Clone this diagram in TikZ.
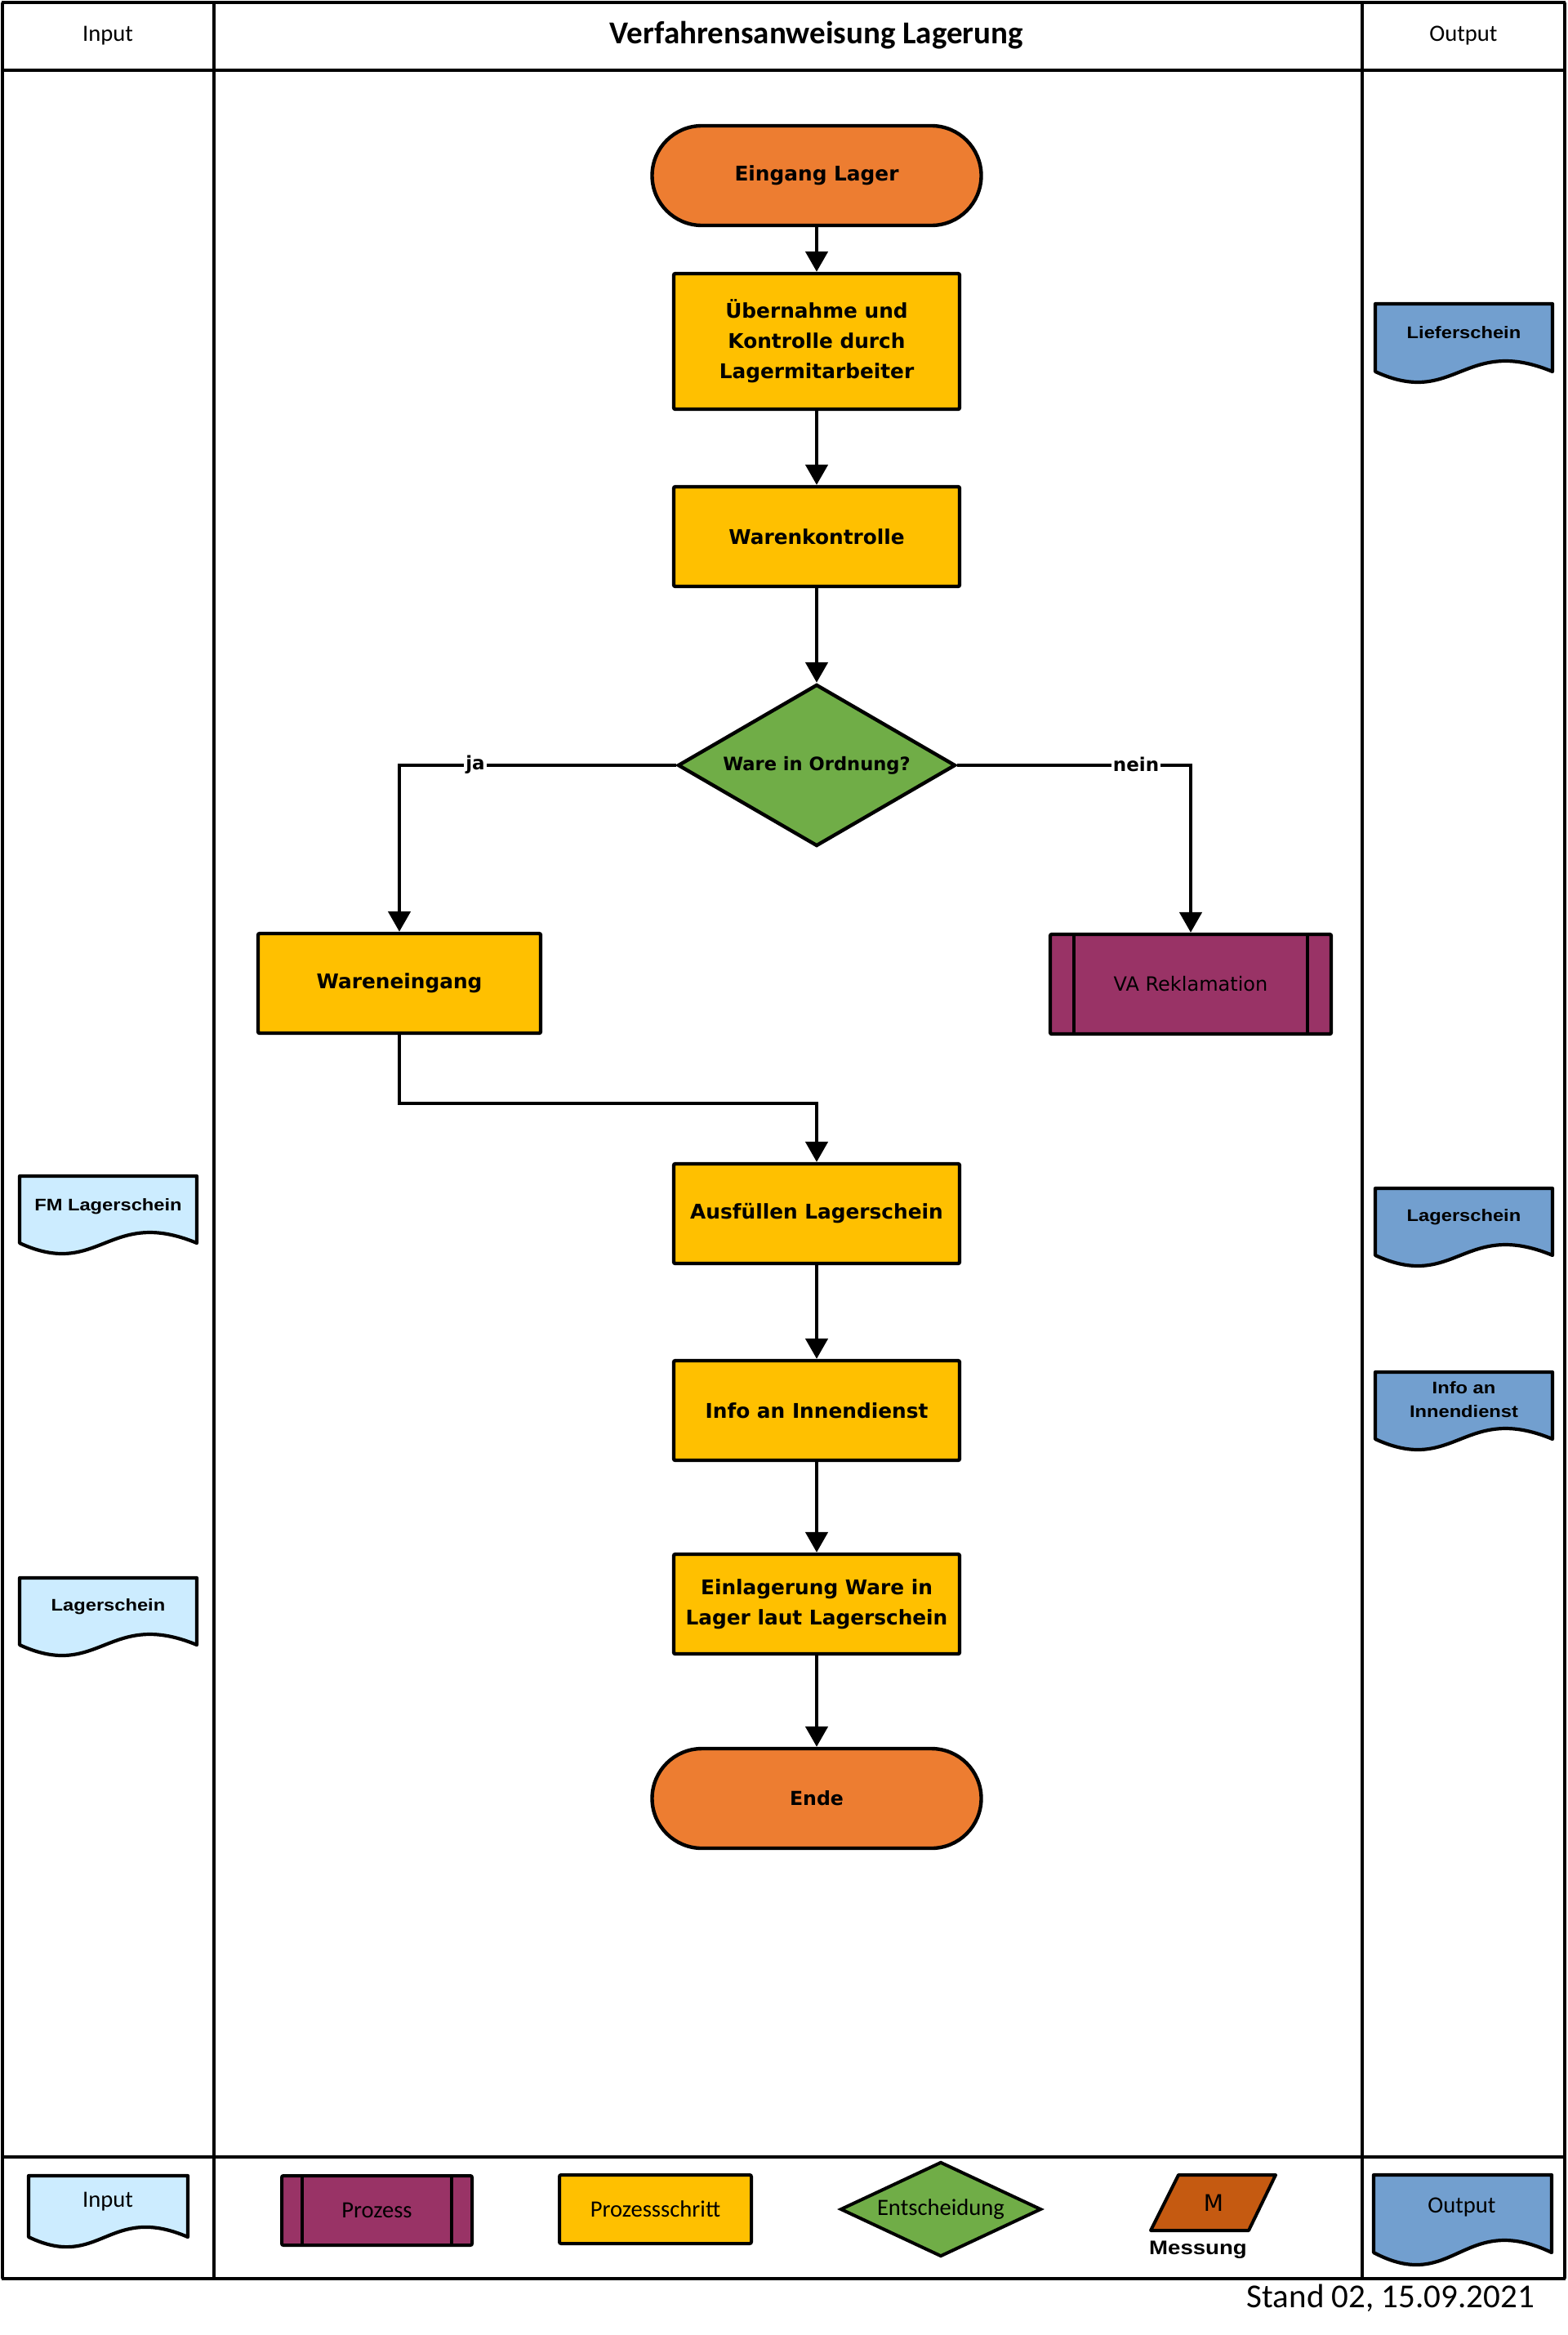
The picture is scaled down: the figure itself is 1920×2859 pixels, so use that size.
\documentclass[tikz,border=0pt]{standalone}
\usepackage{fontspec}
\setmainfont{Carlito}
\newfontfamily\flowfont{DejaVu Sans}
\newfontfamily\docfont[FakeStretch=1.15]{Liberation Sans}
\usetikzlibrary{arrows.meta,shapes.geometric,calc}
\definecolor{termorange}{HTML}{ED7D31}
\definecolor{procyellow}{HTML}{FFC000}
\definecolor{decgreen}{HTML}{70AD47}
\definecolor{subpurple}{HTML}{993366}
\definecolor{outblue}{HTML}{729FCF}
\definecolor{inblue}{HTML}{CCECFF}
\definecolor{measorange}{HTML}{C55A11}
% document shape: left x, top y, width, side height, wave control, fill
\newcommand\docshape[6]{%
  \filldraw[docline,fill=#6] (#1,#2) -- (#1+#3,#2) -- (#1+#3,#2+#4)
    .. controls (#1+0.5*#3,#2+#4-#5) and (#1+0.45*#3,#2+#4+#5) .. (#1,#2+#4) -- cycle;}
\begin{document}
\begin{tikzpicture}[x=0.5pt,y=-0.5pt,
  frameh/.style={line width=2.2pt},
  framev/.style={line width=1.7pt},
  docline/.style={line width=2.1pt, line join=round},
  flowtext/.style={font=\flowfont\bfseries\fontsize{12.4}{18.5}\selectfont},
  terminal/.style={draw, line width=2.2pt, fill=termorange, rounded corners=30.5pt,
    minimum width=201.5pt, minimum height=61pt, align=center, flowtext},
  procbox/.style={draw, line width=2.2pt, fill=procyellow, rounded corners=1pt,
    minimum width=175pt, minimum height=61pt, inner sep=0pt, align=center, flowtext},
  decision/.style={draw, line width=2.2pt, fill=decgreen, diamond, inner sep=0pt,
    aspect=1.72, minimum width=170pt, minimum height=99pt,
    font=\flowfont\bfseries\fontsize{11.3}{14}\selectfont},
  subproc/.style={draw, line width=2.2pt, fill=subpurple, rounded corners=1pt,
    minimum width=172pt, minimum height=61pt, inner sep=0pt,
    font=\flowfont\fontsize{12}{15}\selectfont},
  conn/.style={line width=2.4pt, -{Triangle[length=12.5pt,width=13.5pt]}},
  lbl/.style={fill=white, inner sep=1pt, font=\flowfont\bfseries\fontsize{11.5}{14}\selectfont},
  doctext/.style={align=center, font=\docfont\bfseries\fontsize{10.3}{14.5}\selectfont},
  headtext/.style={font=\fontsize{14.3}{17}\selectfont},
  legtext/.style={font=\fontsize{14.3}{17}\selectfont},
]
\useasboundingbox (0,0) rectangle (1920,2859);
\fill[white] (0,0) rectangle (1920,2859);

% ---------- frame ----------
\draw[framev] (3,3) -- (3,2790);
\draw[framev] (262,3) -- (262,2790);
\draw[framev] (1668,3) -- (1668,2790);
\draw[framev] (1916,3) -- (1916,2790);
\draw[frameh] (2,3) -- (1917,3);
\draw[frameh] (2,86) -- (1917,86);
\draw[frameh] (2,2641) -- (1917,2641);
\draw[frameh] (2,2790) -- (1917,2790);

% ---------- header ----------
\node[headtext] (hin) at (132,44) {Input};
\node[font=\bfseries\fontsize{19.5}{22}\selectfont] (htitle) at (1000,43) {Verfahrensanweisung Lagerung};
\node[headtext] (hout) at (1792,44) {Output};

% ---------- flow ----------
\node[terminal] (start) at (1000,215) {Eingang Lager};
\node[procbox, minimum height=83pt] (ueber) at (1000,418) {Übernahme und\\Kontrolle durch\\Lagermitarbeiter};
\node[procbox] (wk) at (1000,657) {Warenkontrolle};
\node[decision] (dec) at (1000,937) {Ware in Ordnung?};
\node[procbox, minimum width=173pt] (we) at (489,1204) {Wareneingang};
\node[subproc] (va) at (1458,1205) {VA Reklamation};
\draw[line width=2.2pt] ([xshift=15.5pt]va.north west) -- ([xshift=15.5pt]va.south west);
\draw[line width=2.2pt] ([xshift=-15.5pt]va.north east) -- ([xshift=-15.5pt]va.south east);
\node[procbox] (ausf) at (1000,1486) {Ausfüllen Lagerschein};
\node[procbox] (info) at (1000,1727) {Info an Innendienst};
\node[procbox] (einl) at (1000,1964) {Einlagerung Ware in\\Lager laut Lagerschein};
\node[terminal, font=\flowfont\bfseries\fontsize{11.8}{14}\selectfont] (ende) at (1000,2202) {Ende};

\coordinate (join) at (1000,1351);
\draw[conn] (start) -- (ueber);
\draw[conn] (ueber) -- (wk);
\draw[conn] (wk) -- (dec);
\draw[conn] (dec.west) -| (we.north);
\draw[conn] (dec.east) -| (va.north);
\draw[conn] (we.south) |- (join) -- (ausf.north);
\draw[conn] (ausf) -- (info);
\draw[conn] (info) -- (einl);
\draw[conn] (einl) -- (ende);
\node[lbl] (ja) at (582,936) {ja};
\node[lbl] (nein) at (1391,936) {nein};

% ---------- output documents ----------
\docshape{1684}{372}{217}{83}{45}{outblue}
\node[doctext] (lief) at (1792.5,407) {Lieferschein};
\docshape{1684}{1455}{217}{82}{45}{outblue}
\node[doctext] (lsout) at (1792.5,1490) {Lagerschein};
\docshape{1684}{1680}{217}{82}{45}{outblue}
\node[doctext] (infout) at (1792.5,1714) {Info an\\Innendienst};

% ---------- input documents ----------
\docshape{24}{1440}{217}{82}{45}{inblue}
\node[doctext] (fm) at (132.5,1477) {FM Lagerschein};
\docshape{24}{1932}{217}{82}{45}{inblue}
\node[doctext] (lsin) at (132.5,1967) {Lagerschein};

% ---------- legend ----------
\docshape{35}{2664}{195}{75}{42}{inblue}
\node[legtext] (lin) at (132,2696) {Input};
\node[draw, line width=2pt, fill=subpurple, rounded corners=1pt, minimum width=116.5pt,
  minimum height=42.5pt, inner sep=0pt, legtext] (lproz) at (461.5,2706.5) {Prozess};
\draw[line width=2pt] ([xshift=13.5pt]lproz.north west) -- ([xshift=13.5pt]lproz.south west);
\draw[line width=2pt] ([xshift=-13.5pt]lproz.north east) -- ([xshift=-13.5pt]lproz.south east);
\node[draw, line width=2pt, fill=procyellow, rounded corners=1pt, minimum width=117.5pt,
  minimum height=42pt, inner sep=0pt, legtext] (lstep) at (802.5,2705) {Prozessschritt};
\node[draw, line width=2pt, fill=decgreen, diamond, aspect=2.12, inner sep=0pt, minimum width=123pt,
  minimum height=58pt, legtext] (ldec) at (1152,2705) {Entscheidung};
\filldraw[line width=2pt, line join=round, fill=measorange] (1443,2663) -- (1562,2663) -- (1529,2731) -- (1409,2731) -- cycle;
\node[font=\flowfont\fontsize{14}{16}\selectfont] (lm) at (1486,2697) {M};
\node[font=\docfont\bfseries\fontsize{12}{14}\selectfont] (lmess) at (1467,2755) {Messung};
\docshape{1682}{2663}{218}{95}{52}{outblue}
\node[legtext] (lout) at (1790,2702) {Output};

% ---------- footer ----------
\node[anchor=east, font=\fontsize{20.5}{24}\selectfont] (stand) at (1886,2814) {Stand 02, 15.09.2021};
\end{tikzpicture}
\end{document}
